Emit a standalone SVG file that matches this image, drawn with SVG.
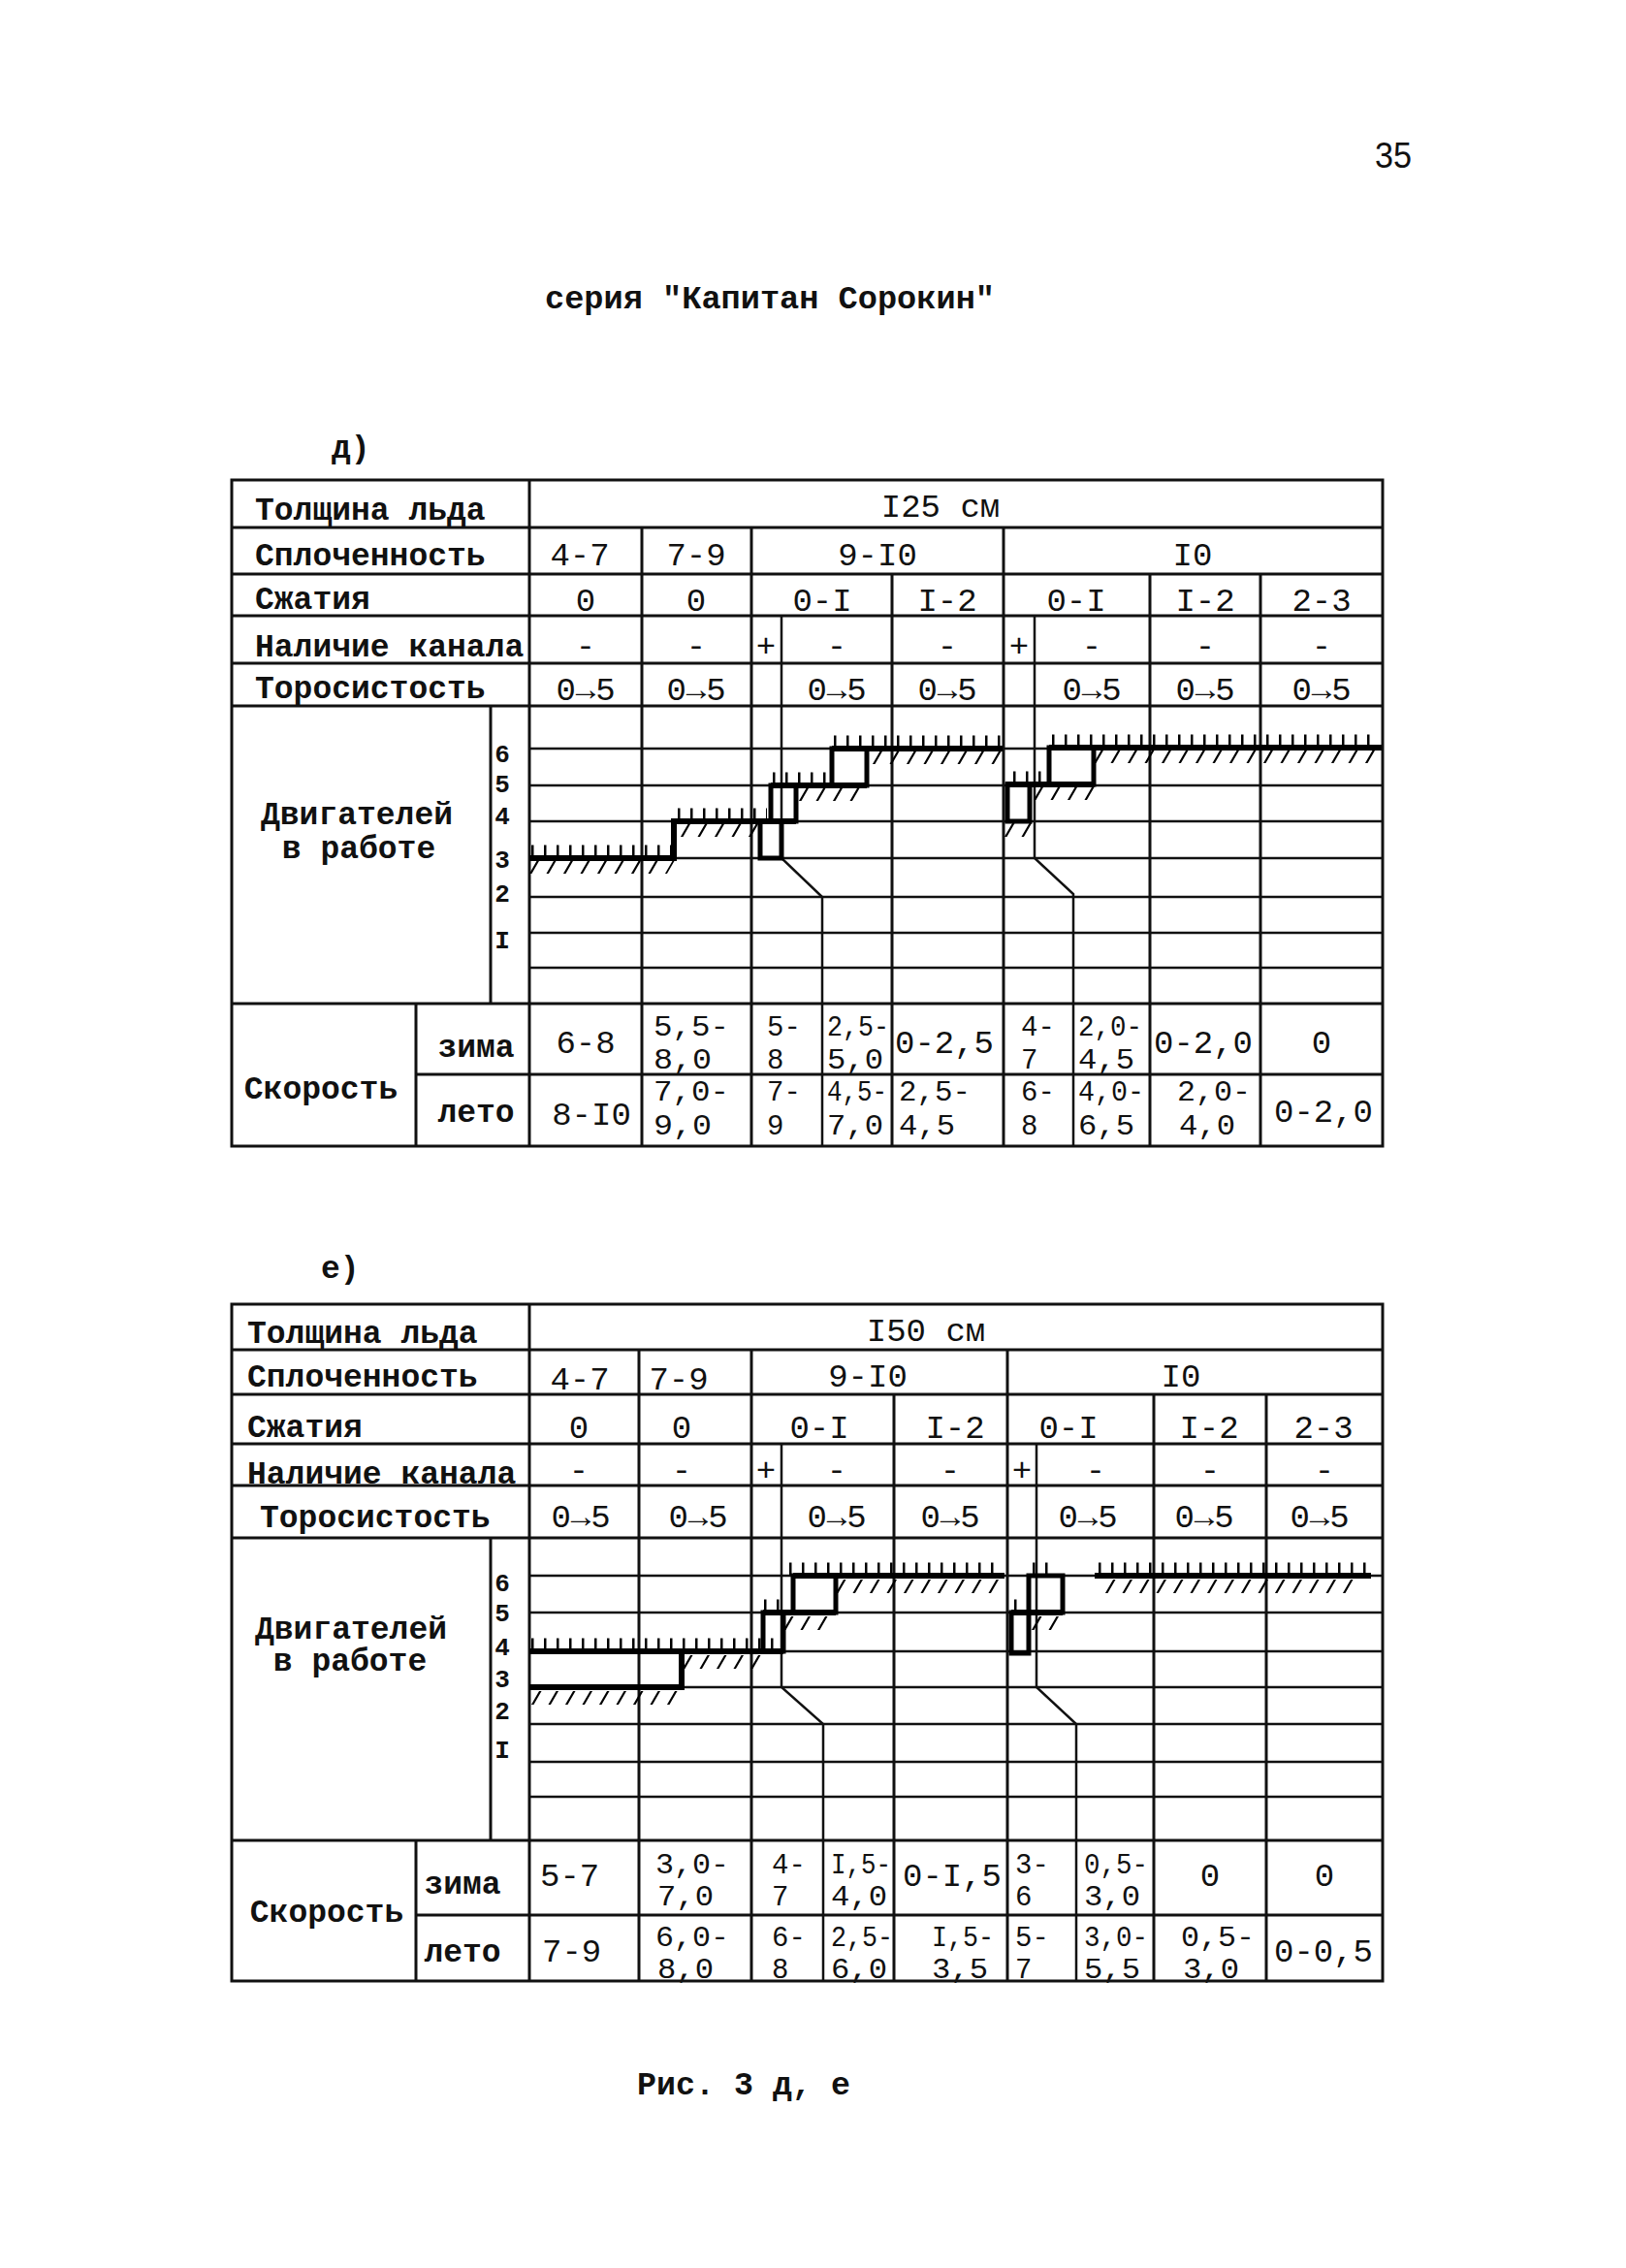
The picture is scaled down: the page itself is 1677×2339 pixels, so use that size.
<svg xmlns="http://www.w3.org/2000/svg" width="1677" height="2339" viewBox="0 0 1677 2339">
<style>
.ln{stroke:#111;stroke-width:3;fill:none}
.g{stroke:#111;stroke-width:2.5;fill:none}
.cn{stroke:#111;stroke-width:2.5;fill:none}
.th{stroke:#000;stroke-width:6;fill:none}
.bx{stroke:#000;stroke-width:5;fill:none}
.tk{stroke:#000;stroke-width:13;stroke-dasharray:2.5 10.5;fill:none}
.sl{stroke:#000;stroke-width:14;stroke-dasharray:2.5 15;fill:none}
.lb{font-family:"Liberation Mono","DejaVu Sans Mono",monospace;font-weight:bold;font-size:33px;fill:#111}
.v{font-family:"Liberation Mono","DejaVu Sans Mono",monospace;font-size:34px;fill:#111}
.w{font-family:"Liberation Mono","DejaVu Sans Mono",monospace;font-size:29px;fill:#111}
.ax{font-family:"Liberation Mono","DejaVu Sans Mono",monospace;font-weight:bold;font-size:26px;fill:#111;text-anchor:middle}
.c{text-anchor:middle}
</style>
<rect width="1677" height="2339" fill="#fff"/>

<g id="page-texts">
<text x="1418" y="173" font-family="Liberation Sans, sans-serif" font-size="36" textLength="38" lengthAdjust="spacingAndGlyphs" fill="#111">35</text>
<text class="lb" x="562" y="318" textLength="464" lengthAdjust="spacingAndGlyphs">серия "Капитан Сорокин"</text>
<text class="lb" x="342" y="472">д)</text>
<text class="lb" x="331" y="1318">е)</text>
<text class="lb" x="657" y="2160" textLength="220" lengthAdjust="spacingAndGlyphs">Рис. 3 д, е</text>
</g>

<!-- ================= TABLE д ================= -->
<g id="table-d">
<g id="table-d-grid">
<rect class="ln" x="239" y="495" width="1187" height="687"/>
<path class="ln" d="M239,544H1426 M239,592H1426 M239,635H1426 M239,684H1426 M239,728H1426 M239,1035H1426 M429,1108H1426"/>
<path class="g" d="M546,772H1426 M546,810H1426 M546,847H1426 M546,885H1426 M546,925H1426 M546,962H1426 M546,998H1426"/>
<path class="ln" d="M546,495V1182 M662,544V1182 M775,544V1182 M920,592V1182 M1035,544V1182 M1186,592V1182 M1300,592V1182 M506,728V1035 M429,1035V1182"/>
</g>
<g id="table-d-connectors">
<path class="cn" d="M806,635V885L848,925V1182"/>
<path class="cn" d="M1067,635V885L1107,922V1182"/>
</g>
<g id="table-d-chart">
<path class="th" d="M546,885H695V847H821"/>
<rect class="bx" x="784" y="847" width="22" height="38"/>
<rect class="bx" x="795" y="810" width="26" height="37"/>
<path class="th" d="M795,810H894"/>
<rect class="bx" x="858" y="772" width="36" height="38"/>
<path class="th" d="M858,772H1034"/>
<rect class="bx" x="1039" y="809" width="23" height="38"/>
<path class="th" d="M1037,809H1128"/>
<rect class="bx" x="1082" y="771" width="46" height="38"/>
<path class="th" d="M1082,771H1425"/>
<path class="tk" d="M548,878H692 M699,840H791 M797,803H856 M860,765H1032 M1045,802H1078 M1085,764H1413"/>
<line class="sl" x1="550" y1="0" x2="692" y2="0" transform="translate(0,894) skewX(-30)"/>
<line class="sl" x1="706" y1="0" x2="780" y2="0" transform="translate(0,856) skewX(-30)"/>
<line class="sl" x1="828" y1="0" x2="884" y2="0" transform="translate(0,819) skewX(-30)"/>
<line class="sl" x1="904" y1="0" x2="1032" y2="0" transform="translate(0,781) skewX(-30)"/>
<line class="sl" x1="1040" y1="0" x2="1062" y2="0" transform="translate(0,856) skewX(-30)"/>
<line class="sl" x1="1070" y1="0" x2="1125" y2="0" transform="translate(0,818) skewX(-30)"/>
<line class="sl" x1="1132" y1="0" x2="1422" y2="0" transform="translate(0,780) skewX(-30)"/>
</g>
<g id="table-d-labels">
<text class="lb" x="263" y="536">Толщина льда</text>
<text class="lb" x="263" y="583">Сплоченность</text>
<text class="lb" x="263" y="628">Сжатия</text>
<text class="lb" x="263" y="677">Наличие канала</text>
<text class="lb" x="263" y="720">Торосистость</text>
<text class="lb c" x="368" y="850">Двигателей</text>
<text class="lb c" x="370" y="885">в работе</text>
<text class="ax" x="518" y="786">6</text>
<text class="ax" x="518" y="817">5</text>
<text class="ax" x="518" y="850">4</text>
<text class="ax" x="518" y="895">3</text>
<text class="ax" x="518" y="930">2</text>
<text class="ax" x="518" y="978">I</text>
<text class="lb c" x="331" y="1133">Скорость</text>
<text class="lb c" x="491" y="1090">зима</text>
<text class="lb c" x="491" y="1157">лето</text>
</g>
<g id="table-d-header-values">
<text class="v c" x="970" y="533">I25 см</text>
<text class="v c" x="598" y="583">4-7</text>
<text class="v c" x="718" y="583">7-9</text>
<text class="v c" x="905" y="583">9-I0</text>
<text class="v c" x="1230" y="583">I0</text>
<text class="v c" x="604" y="630">0</text>
<text class="v c" x="718" y="630">0</text>
<text class="v c" x="848" y="630">0-I</text>
<text class="v c" x="977" y="630">I-2</text>
<text class="v c" x="1110" y="630">0-I</text>
<text class="v c" x="1243" y="630">I-2</text>
<text class="v c" x="1363" y="630">2-3</text>
<text class="v c" x="604" y="677">-</text>
<text class="v c" x="718" y="677">-</text>
<text class="v c" x="790" y="677">+</text>
<text class="v c" x="863" y="677">-</text>
<text class="v c" x="977" y="677">-</text>
<text class="v c" x="1051" y="677">+</text>
<text class="v c" x="1126" y="677">-</text>
<text class="v c" x="1243" y="677">-</text>
<text class="v c" x="1363" y="677">-</text>
<text class="v c" x="604" y="722">0→5</text>
<text class="v c" x="718" y="722">0→5</text>
<text class="v c" x="863" y="722">0→5</text>
<text class="v c" x="977" y="722">0→5</text>
<text class="v c" x="1126" y="722">0→5</text>
<text class="v c" x="1243" y="722">0→5</text>
<text class="v c" x="1363" y="722">0→5</text>
</g>
<g id="table-d-speed">
<text class="v c" x="604" y="1086">6-8</text>
<text class="w" x="674" y="1068" textLength="78" lengthAdjust="spacingAndGlyphs">5,5-</text>
<text class="w" x="674" y="1102" textLength="60" lengthAdjust="spacingAndGlyphs">8,0</text>
<text class="w" x="791" y="1068">5-</text>
<text class="w" x="791" y="1102">8</text>
<text class="w" x="853" y="1068" textLength="64" lengthAdjust="spacingAndGlyphs">2,5-</text>
<text class="w" x="853" y="1102" textLength="58" lengthAdjust="spacingAndGlyphs">5,0</text>
<text class="v" x="923" y="1086">0-2,5</text>
<text class="w" x="1053" y="1068">4-</text>
<text class="w" x="1053" y="1102">7</text>
<text class="w" x="1112" y="1068" textLength="66" lengthAdjust="spacingAndGlyphs">2,0-</text>
<text class="w" x="1112" y="1102" textLength="58" lengthAdjust="spacingAndGlyphs">4,5</text>
<text class="v" x="1190" y="1086">0-2,0</text>
<text class="v c" x="1363" y="1086">0</text>
<text class="v c" x="610" y="1160">8-I0</text>
<text class="w" x="674" y="1135" textLength="78" lengthAdjust="spacingAndGlyphs">7,0-</text>
<text class="w" x="674" y="1170" textLength="60" lengthAdjust="spacingAndGlyphs">9,0</text>
<text class="w" x="791" y="1135">7-</text>
<text class="w" x="791" y="1170">9</text>
<text class="w" x="853" y="1135" textLength="62" lengthAdjust="spacingAndGlyphs">4,5-</text>
<text class="w" x="853" y="1170" textLength="58" lengthAdjust="spacingAndGlyphs">7,0</text>
<text class="w" x="927" y="1135" textLength="74" lengthAdjust="spacingAndGlyphs">2,5-</text>
<text class="w" x="927" y="1170" textLength="58" lengthAdjust="spacingAndGlyphs">4,5</text>
<text class="w" x="1053" y="1135">6-</text>
<text class="w" x="1053" y="1170">8</text>
<text class="w" x="1112" y="1135" textLength="68" lengthAdjust="spacingAndGlyphs">4,0-</text>
<text class="w" x="1112" y="1170" textLength="58" lengthAdjust="spacingAndGlyphs">6,5</text>
<text class="w" x="1214" y="1135" textLength="76" lengthAdjust="spacingAndGlyphs">2,0-</text>
<text class="w" x="1216" y="1170" textLength="58" lengthAdjust="spacingAndGlyphs">4,0</text>
<text class="v" x="1314" y="1157">0-2,0</text>
</g>
</g>

<!-- ================= TABLE е ================= -->
<g id="table-e">
<g id="table-e-grid">
<rect class="ln" x="239" y="1345" width="1187" height="698"/>
<path class="ln" d="M239,1392H1426 M239,1438H1426 M239,1489H1426 M239,1532H1426 M239,1586H1426 M239,1898H1426 M429,1975H1426"/>
<path class="g" d="M546,1625H1426 M546,1663H1426 M546,1703H1426 M546,1740H1426 M546,1778H1426 M546,1817H1426 M546,1853H1426"/>
<path class="ln" d="M546,1345V2043 M659,1392V2043 M775,1392V2043 M922,1438V2043 M1039,1392V2043 M1190,1438V2043 M1306,1438V2043 M506,1586V1898 M429,1898V2043"/>
</g>
<g id="table-e-connectors">
<path class="cn" d="M806,1489V1740L849,1778V2043"/>
<path class="cn" d="M1069,1489V1740L1110,1778V2043"/>
</g>
<g id="table-e-chart">
<path class="th" d="M546,1740H703V1703"/>
<path class="th" d="M546,1703H808"/>
<rect class="bx" x="787" y="1663" width="21" height="40"/>
<path class="th" d="M787,1663H862"/>
<rect class="bx" x="818" y="1625" width="44" height="38"/>
<path class="th" d="M818,1625H1036"/>
<rect class="bx" x="1043" y="1663" width="18" height="42"/>
<path class="th" d="M1043,1663H1096"/>
<rect class="bx" x="1061" y="1625" width="35" height="38"/>
<path class="th" d="M1129,1625H1414"/>
<path class="tk" d="M548,1696H802 M788,1656H806 M814,1618H1034 M1046,1656H1061 M1065,1618H1090 M1133,1618H1412"/>
<line class="sl" x1="552" y1="0" x2="700" y2="0" transform="translate(0,1751) skewX(-30)"/>
<line class="sl" x1="708" y1="0" x2="792" y2="0" transform="translate(0,1714) skewX(-30)"/>
<line class="sl" x1="812" y1="0" x2="852" y2="0" transform="translate(0,1674) skewX(-30)"/>
<line class="sl" x1="866" y1="0" x2="1026" y2="0" transform="translate(0,1636) skewX(-30)"/>
<line class="sl" x1="1068" y1="0" x2="1090" y2="0" transform="translate(0,1674) skewX(-30)"/>
<line class="sl" x1="1144" y1="0" x2="1406" y2="0" transform="translate(0,1636) skewX(-30)"/>
</g>
<g id="table-e-labels">
<text class="lb" x="255" y="1385">Толщина льда</text>
<text class="lb" x="255" y="1430">Сплоченность</text>
<text class="lb" x="255" y="1482">Сжатия</text>
<text class="lb" x="255" y="1530">Наличие канала</text>
<text class="lb" x="268" y="1575">Торосистость</text>
<text class="lb c" x="362" y="1690">Двигателей</text>
<text class="lb c" x="361" y="1723">в работе</text>
<text class="ax" x="518" y="1641">6</text>
<text class="ax" x="518" y="1672">5</text>
<text class="ax" x="518" y="1707">4</text>
<text class="ax" x="518" y="1740">3</text>
<text class="ax" x="518" y="1773">2</text>
<text class="ax" x="518" y="1813">I</text>
<text class="lb c" x="337" y="1982">Скорость</text>
<text class="lb c" x="477" y="1953">зима</text>
<text class="lb c" x="477" y="2023">лето</text>
</g>
<g id="table-e-header-values">
<text class="v c" x="955" y="1383">I50 см</text>
<text class="v c" x="598" y="1433">4-7</text>
<text class="v c" x="700" y="1433">7-9</text>
<text class="v c" x="895" y="1430">9-I0</text>
<text class="v c" x="1218" y="1430">I0</text>
<text class="v c" x="597" y="1483">0</text>
<text class="v c" x="703" y="1483">0</text>
<text class="v c" x="845" y="1483">0-I</text>
<text class="v c" x="985" y="1483">I-2</text>
<text class="v c" x="1102" y="1483">0-I</text>
<text class="v c" x="1247" y="1483">I-2</text>
<text class="v c" x="1365" y="1483">2-3</text>
<text class="v c" x="597" y="1527">-</text>
<text class="v c" x="703" y="1527">-</text>
<text class="v c" x="790" y="1527">+</text>
<text class="v c" x="863" y="1527">-</text>
<text class="v c" x="980" y="1527">-</text>
<text class="v c" x="1054" y="1527">+</text>
<text class="v c" x="1130" y="1527">-</text>
<text class="v c" x="1248" y="1527">-</text>
<text class="v c" x="1366" y="1527">-</text>
<text class="v c" x="599" y="1575">0→5</text>
<text class="v c" x="720" y="1575">0→5</text>
<text class="v c" x="863" y="1575">0→5</text>
<text class="v c" x="980" y="1575">0→5</text>
<text class="v c" x="1122" y="1575">0→5</text>
<text class="v c" x="1242" y="1575">0→5</text>
<text class="v c" x="1361" y="1575">0→5</text>
</g>
<g id="table-e-speed">
<text class="v" x="557" y="1945">5-7</text>
<text class="w" x="676" y="1932" textLength="76" lengthAdjust="spacingAndGlyphs">3,0-</text>
<text class="w" x="678" y="1965" textLength="58" lengthAdjust="spacingAndGlyphs">7,0</text>
<text class="w" x="796" y="1932">4-</text>
<text class="w" x="796" y="1965">7</text>
<text class="w" x="857" y="1932" textLength="62" lengthAdjust="spacingAndGlyphs">I,5-</text>
<text class="w" x="857" y="1965" textLength="58" lengthAdjust="spacingAndGlyphs">4,0</text>
<text class="v" x="931" y="1945">0-I,5</text>
<text class="w" x="1047" y="1932">3-</text>
<text class="w" x="1047" y="1965">6</text>
<text class="w" x="1118" y="1932" textLength="66" lengthAdjust="spacingAndGlyphs">0,5-</text>
<text class="w" x="1118" y="1965" textLength="58" lengthAdjust="spacingAndGlyphs">3,0</text>
<text class="v c" x="1248" y="1945">0</text>
<text class="v c" x="1366" y="1945">0</text>
<text class="v" x="559" y="2023">7-9</text>
<text class="w" x="676" y="2007" textLength="76" lengthAdjust="spacingAndGlyphs">6,0-</text>
<text class="w" x="678" y="2040" textLength="58" lengthAdjust="spacingAndGlyphs">8,0</text>
<text class="w" x="796" y="2007">6-</text>
<text class="w" x="796" y="2040">8</text>
<text class="w" x="857" y="2007" textLength="64" lengthAdjust="spacingAndGlyphs">2,5-</text>
<text class="w" x="857" y="2040" textLength="58" lengthAdjust="spacingAndGlyphs">6,0</text>
<text class="w" x="961" y="2007" textLength="64" lengthAdjust="spacingAndGlyphs">I,5-</text>
<text class="w" x="961" y="2040" textLength="58" lengthAdjust="spacingAndGlyphs">3,5</text>
<text class="w" x="1047" y="2007">5-</text>
<text class="w" x="1047" y="2040">7</text>
<text class="w" x="1118" y="2007" textLength="66" lengthAdjust="spacingAndGlyphs">3,0-</text>
<text class="w" x="1118" y="2040" textLength="58" lengthAdjust="spacingAndGlyphs">5,5</text>
<text class="w" x="1218" y="2007" textLength="76" lengthAdjust="spacingAndGlyphs">0,5-</text>
<text class="w" x="1220" y="2040" textLength="58" lengthAdjust="spacingAndGlyphs">3,0</text>
<text class="v" x="1314" y="2023">0-0,5</text>
</g>
</g>
</svg>
